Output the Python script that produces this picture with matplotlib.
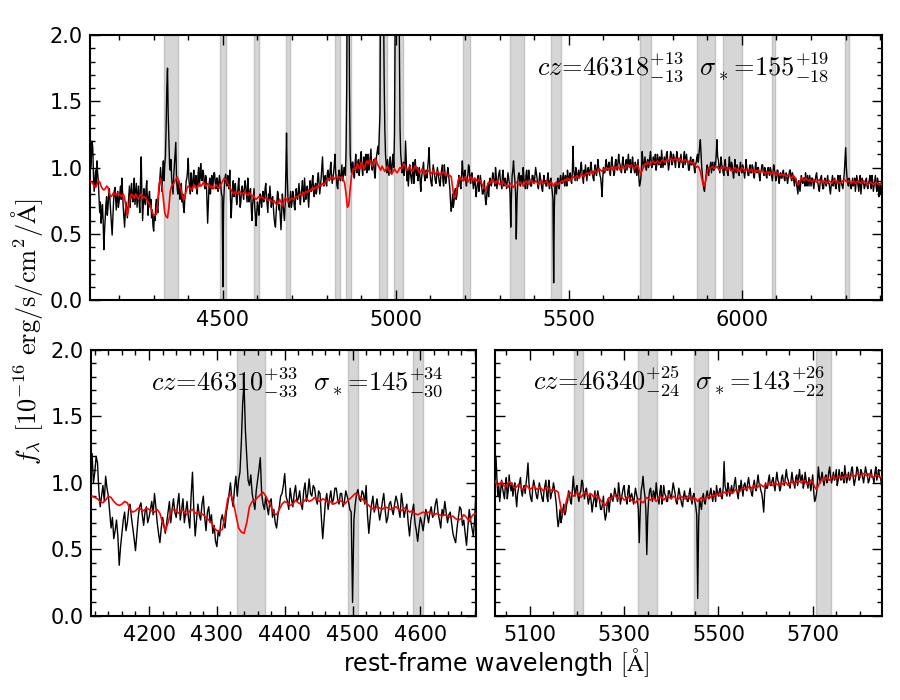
import numpy as np
import matplotlib
matplotlib.use("Agg")
import matplotlib.pyplot as plt
from matplotlib.ticker import MultipleLocator, FixedLocator, FormatStrFormatter

# ---------------- data ----------------
# observed spectrum (black): rest-frame grid start / step [Angstrom]
flux_start = 4116.0
flux_step = 2.0
# one row = 20 samples = 40 A, row start noted
flux = [
    1.22, 1.00, 1.08, 1.20, 1.15, 0.94, 0.82, 0.90, 0.98, 0.86, 1.05, 0.96, 0.90, 0.78, 0.66, 0.74, 0.58, 0.64, 0.72, 0.60,  # 4116
    0.38, 0.52, 0.62, 0.72, 0.78, 0.64, 0.70, 0.80, 0.84, 0.74, 0.66, 0.58, 0.49, 0.62, 0.74, 0.82, 0.85, 0.76, 0.68, 0.78,  # 4156
    0.82, 0.70, 0.74, 0.80, 0.86, 0.76, 0.92, 0.82, 0.70, 0.62, 0.55, 0.66, 0.74, 0.68, 0.62, 0.70, 0.78, 0.86, 0.70, 0.80,  # 4196
    0.88, 0.78, 0.74, 0.84, 0.92, 0.72, 0.80, 0.88, 0.70, 0.78, 0.86, 0.74, 0.66, 0.90, 1.08, 0.80, 0.60, 0.72, 0.84, 0.76,  # 4236
    0.72, 0.84, 0.90, 0.74, 0.64, 0.78, 0.82, 0.70, 0.76, 0.62, 0.68, 0.56, 0.52, 0.64, 0.60, 0.72, 0.76, 0.70, 0.66, 0.78,  # 4276
    0.84, 0.92, 1.00, 0.88, 0.82, 0.96, 1.05, 0.90, 1.02, 1.08, 1.30, 1.60, 1.75, 1.40, 1.20, 1.02, 0.98, 1.06, 0.92, 0.86,  # 4316
    0.80, 0.94, 1.02, 1.10, 1.19, 0.92, 0.84, 0.80, 0.90, 0.82, 0.76, 0.86, 0.88, 0.74, 0.80, 0.70, 0.66, 0.76, 0.82, 0.90,  # 4356
    0.92, 0.98, 1.07, 0.90, 0.86, 0.80, 0.96, 0.88, 0.82, 0.92, 0.98, 0.86, 0.88, 0.94, 0.84, 0.80, 0.94, 1.00, 0.86, 0.92,  # 4396
    1.03, 0.92, 0.90, 0.98, 0.96, 0.88, 0.84, 0.94, 0.92, 0.74, 0.58, 0.72, 0.86, 0.92, 0.80, 0.88, 0.94, 0.84, 0.88, 0.96,  # 4436
    0.96, 0.88, 0.84, 0.92, 0.92, 0.82, 0.86, 0.94, 0.90, 0.86, 0.80, 0.78, 0.10, 0.72, 0.84, 0.92, 0.95, 0.88, 0.86, 0.94,  # 4476
    0.92, 0.84, 0.98, 0.76, 0.62, 0.74, 0.84, 0.90, 0.78, 0.82, 0.88, 0.80, 0.72, 0.78, 0.86, 0.92, 0.80, 0.70, 0.74, 0.84,  # 4516
    0.86, 0.80, 0.76, 0.84, 0.90, 0.86, 0.80, 0.74, 0.92, 0.84, 0.74, 0.80, 0.84, 0.70, 0.60, 0.72, 0.78, 0.84, 0.70, 0.64,  # 4556
    0.56, 0.66, 0.74, 0.70, 0.64, 0.72, 0.80, 0.76, 0.70, 0.78, 0.82, 0.74, 0.76, 0.84, 0.88, 0.78, 0.72, 0.66, 0.80, 0.76,  # 4596
    0.86, 0.78, 0.70, 0.76, 0.78, 0.70, 0.62, 0.58, 0.55, 0.66, 0.74, 0.82, 0.80, 0.68, 0.72, 0.62, 0.53, 0.66, 0.80, 0.72,  # 4636
    0.66, 0.60, 0.72, 0.96, 1.26, 0.94, 0.78, 0.72, 0.70, 0.76, 0.82, 0.70, 0.74, 0.82, 0.80, 0.72, 0.68, 0.76, 0.84, 0.78,  # 4676
    0.76, 0.82, 0.88, 0.78, 0.72, 0.80, 0.84, 0.90, 0.80, 0.74, 0.92, 0.84, 0.76, 0.82, 0.86, 0.78, 0.70, 0.82, 0.90, 0.84,  # 4716
    0.82, 0.90, 0.94, 0.84, 0.78, 0.86, 0.88, 0.80, 0.84, 0.92, 0.96, 0.88, 0.80, 0.86, 0.92, 1.00, 1.08, 0.94, 0.86, 0.92,  # 4756
    0.94, 0.88, 0.86, 0.96, 0.98, 0.92, 0.90, 0.98, 1.04, 0.94, 0.88, 0.92, 0.96, 1.02, 1.10, 0.96, 0.92, 0.86, 0.84, 0.94,  # 4796
    0.98, 0.92, 0.90, 0.96, 1.02, 0.90, 0.94, 1.00, 1.00, 0.94, 1.12, 1.60, 2.80, 3.20, 2.60, 1.60, 1.10, 1.00, 0.96, 1.04,  # 4836
    1.04, 0.96, 0.92, 1.02, 1.10, 1.00, 0.96, 1.04, 1.06, 0.94, 1.00, 1.08, 1.12, 1.00, 0.94, 1.02, 1.08, 0.98, 1.02, 1.10,  # 4876
    0.96, 1.04, 1.10, 0.98, 1.02, 1.08, 1.14, 1.00, 0.98, 1.04, 1.06, 0.96, 0.92, 1.02, 1.08, 1.12, 1.16, 1.10, 1.24, 1.40,  # 4916
    2.50, 3.00, 3.00, 2.80, 2.40, 1.70, 1.30, 1.10, 1.02, 0.96, 1.06, 1.00, 0.94, 1.02, 1.08, 0.98, 0.96, 1.04, 1.10, 1.00,  # 4956
    1.25, 2.00, 3.20, 4.00, 4.50, 4.00, 3.00, 2.00, 1.30, 1.10, 1.04, 0.96, 0.98, 1.04, 0.94, 1.00, 1.20, 1.04, 0.90, 0.98,  # 4996
    0.86, 0.94, 1.02, 0.96, 0.92, 0.88, 0.98, 1.04, 0.88, 0.94, 1.06, 0.98, 0.94, 1.00, 0.90, 0.96, 1.00, 0.90, 0.82, 0.92,  # 5036
    0.96, 1.00, 1.04, 0.94, 0.90, 0.96, 0.98, 0.92, 1.00, 1.06, 1.15, 1.00, 0.92, 0.88, 0.86, 0.96, 1.02, 0.98, 0.94, 0.90,  # 5076
    0.88, 0.94, 1.00, 0.96, 0.92, 0.88, 0.86, 0.94, 0.98, 1.02, 0.90, 0.86, 1.02, 0.96, 0.88, 0.92, 0.94, 1.00, 0.96, 0.90,  # 5116
    0.84, 0.74, 0.67, 0.72, 0.80, 0.70, 0.74, 0.80, 0.84, 0.76, 0.78, 0.84, 0.86, 0.94, 0.92, 0.86, 0.84, 0.94, 1.05, 0.96,  # 5156
    0.90, 0.96, 0.98, 0.90, 0.86, 0.92, 0.94, 1.02, 1.00, 0.92, 0.88, 0.94, 0.96, 0.90, 0.84, 0.88, 0.92, 0.86, 0.78, 0.84,  # 5196
    0.88, 0.94, 0.82, 0.86, 0.94, 0.90, 0.86, 0.80, 0.80, 0.84, 0.90, 0.78, 0.72, 0.76, 0.84, 0.88, 0.78, 0.86, 0.92, 0.88,  # 5236
    0.86, 0.90, 0.96, 0.92, 0.90, 0.86, 1.00, 0.94, 0.84, 0.88, 0.92, 0.96, 0.98, 0.90, 0.88, 0.84, 0.94, 0.98, 0.86, 0.90,  # 5276
    0.92, 0.88, 0.84, 0.90, 0.96, 0.92, 0.88, 0.80, 0.55, 0.78, 0.94, 0.98, 1.05, 0.96, 0.90, 0.80, 0.46, 0.74, 0.88, 0.94,  # 5316
    0.96, 0.90, 0.86, 0.94, 0.92, 0.88, 1.00, 0.92, 0.88, 0.84, 0.94, 0.98, 0.84, 0.90, 0.98, 0.92, 0.90, 0.86, 0.86, 0.94,  # 5356
    0.94, 0.90, 0.88, 0.94, 1.00, 0.96, 0.92, 0.86, 0.84, 0.90, 0.96, 0.92, 0.88, 0.84, 0.82, 0.90, 0.94, 0.88, 0.90, 0.86,  # 5396
    0.86, 0.92, 0.96, 0.88, 0.84, 0.90, 0.92, 0.86, 0.82, 0.76, 0.13, 0.70, 0.88, 0.84, 0.80, 0.88, 0.92, 0.86, 0.84, 0.90,  # 5436
    0.94, 0.90, 0.88, 0.92, 0.96, 0.90, 0.86, 0.94, 0.92, 0.86, 0.98, 0.92, 0.90, 0.94, 0.96, 0.90, 0.88, 0.96, 1.16, 0.98,  # 5476
    0.94, 0.90, 1.00, 0.96, 0.90, 0.94, 0.98, 0.92, 0.94, 1.00, 1.04, 0.96, 0.92, 0.88, 0.98, 0.94, 1.02, 0.96, 0.90, 0.98,  # 5516
    1.00, 0.96, 0.94, 1.00, 1.04, 0.98, 0.96, 0.92, 0.90, 0.98, 1.02, 0.96, 0.94, 1.00, 1.06, 1.00, 0.98, 0.94, 0.92, 0.86,  # 5556
    0.78, 0.92, 1.00, 0.96, 0.96, 1.02, 1.06, 0.98, 0.98, 1.02, 1.04, 0.98, 0.94, 1.02, 1.08, 1.02, 1.00, 0.94, 0.96, 1.04,  # 5596
    1.06, 1.00, 0.98, 1.04, 1.10, 1.04, 1.02, 0.98, 0.96, 1.02, 1.08, 1.02, 1.00, 0.96, 1.04, 1.06, 0.98, 1.04, 1.10, 1.02,  # 5636
    1.02, 1.06, 0.96, 1.00, 1.08, 1.02, 1.00, 0.96, 1.04, 1.00, 0.94, 1.00, 1.06, 0.94, 0.86, 0.88, 0.92, 1.00, 1.12, 1.04,  # 5676
    1.00, 1.04, 1.08, 1.02, 0.98, 1.04, 1.06, 1.00, 1.02, 1.08, 1.12, 1.04, 1.00, 1.04, 1.08, 1.02, 1.04, 1.10, 0.98, 1.02,  # 5716
    1.10, 1.04, 1.02, 1.08, 1.06, 1.00, 1.13, 1.06, 1.00, 1.04, 1.08, 1.02, 1.04, 1.10, 1.12, 1.04, 0.98, 1.02, 1.06, 1.12,  # 5756
    1.10, 1.02, 1.04, 1.10, 1.08, 1.04, 1.00, 1.06, 1.12, 1.08, 1.06, 1.00, 1.02, 1.06, 1.10, 1.04, 1.04, 1.00, 1.08, 1.12,  # 5796
    1.02, 1.06, 1.10, 1.04, 1.04, 0.98, 0.98, 1.04, 1.08, 1.02, 1.02, 1.06, 1.06, 1.00, 0.96, 1.02, 1.04, 1.08, 1.10, 1.04,  # 5836
    1.10, 1.16, 1.21, 1.10, 1.00, 0.94, 0.88, 0.84, 0.82, 0.88, 0.92, 0.98, 1.02, 0.96, 0.94, 1.00, 1.00, 1.04, 0.96, 1.00,  # 5876
    1.04, 0.98, 0.98, 1.04, 1.02, 1.10, 1.21, 1.08, 1.06, 1.00, 0.96, 1.02, 1.08, 1.02, 1.00, 0.96, 0.94, 1.02, 1.06, 0.98,  # 5916
    1.00, 0.96, 0.94, 1.02, 1.08, 1.00, 0.98, 1.04, 1.02, 0.96, 0.92, 0.98, 1.06, 1.00, 0.96, 1.02, 1.00, 0.96, 0.94, 1.00,  # 5956
    1.04, 0.98, 0.96, 1.02, 1.00, 0.96, 0.92, 0.98, 1.06, 1.00, 0.98, 0.94, 0.94, 1.00, 1.02, 0.96, 0.96, 1.02, 1.00, 0.94,  # 5996
    0.92, 0.98, 1.04, 0.98, 0.96, 1.00, 1.00, 0.94, 0.90, 0.96, 0.98, 1.02, 1.02, 0.96, 0.94, 1.00, 0.98, 0.94, 0.92, 0.98,  # 6036
    1.00, 0.96, 0.94, 1.00, 0.98, 0.94, 0.90, 0.96, 1.02, 0.98, 0.96, 0.90, 0.92, 0.98, 0.98, 0.92, 0.88, 0.94, 0.96, 0.92,  # 6076
    0.92, 0.96, 0.98, 0.92, 0.90, 0.94, 0.96, 0.92, 0.88, 0.92, 0.94, 0.98, 0.98, 0.92, 0.90, 0.96, 0.94, 0.90, 0.86, 0.92,  # 6116
    0.92, 0.88, 0.84, 0.80, 0.90, 0.86, 0.82, 0.88, 0.94, 0.90, 0.88, 0.92, 0.92, 0.86, 0.96, 0.90, 0.86, 0.94, 0.90, 0.86,  # 6156
    0.94, 0.90, 0.86, 0.92, 0.92, 0.88, 0.84, 0.90, 0.90, 0.94, 0.96, 0.90, 0.88, 0.84, 0.82, 0.88, 0.92, 0.94, 0.88, 0.84,  # 6196
    0.84, 0.90, 0.92, 0.88, 0.86, 0.90, 0.94, 0.88, 0.88, 0.84, 0.80, 0.86, 0.90, 0.94, 0.86, 0.90, 0.92, 0.86, 0.84, 0.88,  # 6236
    0.90, 0.94, 0.86, 0.82, 0.94, 0.90, 0.88, 0.86, 0.84, 0.90, 0.96, 1.06, 1.15, 1.00, 0.92, 0.88, 0.86, 0.92, 0.90, 0.86,  # 6276
    0.84, 0.88, 0.92, 0.86, 0.88, 0.92, 0.82, 0.88, 0.94, 0.90, 0.86, 0.82, 0.90, 0.94, 0.80, 0.86, 0.92, 0.88, 0.88, 0.84,  # 6316
    0.86, 0.90, 0.92, 0.86, 0.84, 0.88, 0.90, 0.94, 0.88, 0.84, 0.94, 0.90, 0.82, 0.86, 0.90, 0.94, 0.86, 0.82, 0.92, 0.88,  # 6356
    0.78, 0.84, 0.88, 0.80, 0.84,                                                                                            # 6396
]

# best-fit stellar model (red): grid start / step [Angstrom]
model_start = 4116.0
model_step = 4.0
# one row = 10 samples = 40 A
model = [
    0.90, 0.89, 0.88, 0.86, 0.85, 0.87, 0.90, 0.89, 0.86, 0.84,  # 4116
    0.83, 0.84, 0.86, 0.85, 0.80, 0.78, 0.79, 0.81, 0.80, 0.79,  # 4156
    0.81, 0.80, 0.79, 0.78, 0.80, 0.77, 0.70, 0.64, 0.70, 0.78,  # 4196
    0.80, 0.79, 0.77, 0.80, 0.78, 0.76, 0.79, 0.80, 0.77, 0.78,  # 4236
    0.77, 0.76, 0.74, 0.72, 0.70, 0.66, 0.64, 0.64, 0.65, 0.75,  # 4276
    0.88, 0.92, 0.86, 0.76, 0.66, 0.63, 0.62, 0.70, 0.82, 0.86,  # 4316
    0.87, 0.89, 0.91, 0.93, 0.90, 0.86, 0.82, 0.77, 0.76, 0.80,  # 4356
    0.84, 0.86, 0.85, 0.83, 0.84, 0.87, 0.85, 0.84, 0.86, 0.88,  # 4396
    0.86, 0.87, 0.89, 0.87, 0.86, 0.88, 0.87, 0.85, 0.86, 0.84,  # 4436
    0.85, 0.87, 0.86, 0.84, 0.86, 0.88, 0.90, 0.92, 0.91, 0.89,  # 4476
    0.87, 0.85, 0.83, 0.81, 0.80, 0.82, 0.81, 0.80, 0.82, 0.81,  # 4516
    0.80, 0.81, 0.82, 0.80, 0.79, 0.81, 0.80, 0.78, 0.79, 0.77,  # 4556
    0.76, 0.77, 0.78, 0.77, 0.78, 0.77, 0.76, 0.77, 0.76, 0.75,  # 4596
    0.76, 0.75, 0.74, 0.75, 0.73, 0.72, 0.73, 0.76, 0.74, 0.71,  # 4636
    0.75, 0.77, 0.76, 0.74, 0.75, 0.76, 0.77, 0.76, 0.77, 0.78,  # 4676
    0.78, 0.79, 0.80, 0.79, 0.81, 0.80, 0.82, 0.81, 0.83, 0.82,  # 4716
    0.84, 0.83, 0.85, 0.84, 0.86, 0.85, 0.87, 0.86, 0.88, 0.87,  # 4756
    0.89, 0.90, 0.92, 0.91, 0.92, 0.93, 0.91, 0.92, 0.93, 0.92,  # 4796
    0.93, 0.92, 0.93, 0.91, 0.88, 0.80, 0.70, 0.72, 0.84, 0.94,  # 4836
    0.98, 1.00, 0.98, 1.03, 1.01, 0.99, 1.04, 1.02, 0.99, 1.02,  # 4876
    1.05, 1.03, 1.06, 1.04, 1.01, 1.04, 1.07, 1.05, 1.02, 1.00,  # 4916
    0.98, 1.01, 0.99, 0.97, 0.99, 1.01, 0.98, 0.96, 0.95, 0.97,  # 4956
    0.99, 0.97, 0.96, 0.98, 1.00, 0.99, 1.01, 1.03, 1.00, 0.98,  # 4996
    0.99, 1.01, 0.98, 0.97, 0.99, 1.01, 1.00, 0.98, 0.96, 0.97,  # 5036
    0.99, 0.97, 0.95, 0.96, 0.98, 0.97, 0.95, 0.96, 0.98, 0.96,  # 5076
    0.95, 0.97, 0.96, 0.94, 0.95, 0.97, 0.96, 0.94, 0.95, 0.94,  # 5116
    0.94, 0.93, 0.85, 0.77, 0.78, 0.84, 0.90, 0.93, 0.92, 0.90,  # 5156
    0.91, 0.93, 0.91, 0.89, 0.91, 0.93, 0.92, 0.90, 0.92, 0.91,  # 5196
    0.89, 0.91, 0.90, 0.88, 0.86, 0.84, 0.83, 0.86, 0.89, 0.88,  # 5236
    0.90, 0.91, 0.89, 0.88, 0.90, 0.89, 0.87, 0.88, 0.90, 0.88,  # 5276
    0.87, 0.86, 0.85, 0.87, 0.88, 0.86, 0.85, 0.87, 0.89, 0.88,  # 5316
    0.87, 0.89, 0.88, 0.86, 0.88, 0.90, 0.89, 0.87, 0.89, 0.90,  # 5356
    0.89, 0.88, 0.90, 0.89, 0.87, 0.88, 0.90, 0.89, 0.88, 0.89,  # 5396
    0.90, 0.88, 0.87, 0.89, 0.88, 0.86, 0.88, 0.89, 0.87, 0.88,  # 5436
    0.89, 0.90, 0.89, 0.91, 0.90, 0.92, 0.91, 0.90, 0.92, 0.93,  # 5476
    0.92, 0.93, 0.94, 0.92, 0.93, 0.95, 0.94, 0.93, 0.95, 0.96,  # 5516
    0.95, 0.96, 0.97, 0.95, 0.97, 0.98, 0.96, 0.97, 0.99, 0.98,  # 5556
    0.97, 0.99, 0.98, 1.00, 0.99, 0.98, 1.00, 0.99, 0.98, 1.00,  # 5596
    0.99, 1.01, 1.00, 0.98, 1.00, 1.01, 0.99, 1.00, 1.02, 1.01,  # 5636
    1.00, 1.02, 1.01, 0.99, 1.00, 1.02, 1.01, 0.97, 0.95, 0.98,  # 5676
    1.01, 1.03, 1.02, 1.04, 1.03, 1.02, 1.04, 1.05, 1.03, 1.04,  # 5716
    1.05, 1.04, 1.03, 1.05, 1.06, 1.04, 1.05, 1.06, 1.05, 1.06,  # 5756
    1.07, 1.05, 1.06, 1.07, 1.06, 1.05, 1.07, 1.06, 1.04, 1.05,  # 5796
    1.06, 1.05, 1.04, 1.05, 1.04, 1.03, 1.04, 1.02, 1.00, 1.01,  # 5836
    1.00, 0.97, 0.92, 0.87, 0.86, 0.91, 0.97, 1.00, 0.99, 1.00,  # 5876
    1.01, 0.99, 1.00, 1.01, 0.99, 0.98, 1.00, 0.99, 1.01, 1.00,  # 5916
    0.98, 0.99, 1.00, 0.98, 0.97, 0.99, 1.00, 0.98, 0.99, 0.97,  # 5956
    0.98, 1.00, 0.99, 0.97, 0.98, 0.99, 0.97, 0.98, 0.99, 0.97,  # 5996
    0.96, 0.98, 0.97, 0.98, 0.96, 0.97, 0.98, 0.96, 0.95, 0.97,  # 6036
    0.96, 0.97, 0.95, 0.96, 0.97, 0.95, 0.94, 0.96, 0.95, 0.94,  # 6076
    0.95, 0.94, 0.95, 0.93, 0.94, 0.95, 0.93, 0.92, 0.94, 0.93,  # 6116
    0.91, 0.88, 0.87, 0.90, 0.92, 0.91, 0.90, 0.92, 0.91, 0.90,  # 6156
    0.91, 0.90, 0.89, 0.91, 0.90, 0.89, 0.90, 0.91, 0.89, 0.90,  # 6196
    0.89, 0.90, 0.88, 0.89, 0.90, 0.89, 0.88, 0.90, 0.91, 0.89,  # 6236
    0.90, 0.89, 0.88, 0.89, 0.90, 0.91, 0.90, 0.89, 0.90, 0.89,  # 6276
    0.88, 0.89, 0.90, 0.88, 0.89, 0.90, 0.89, 0.88, 0.89, 0.90,  # 6316
    0.89, 0.88, 0.87, 0.88, 0.89, 0.88, 0.87, 0.88, 0.89, 0.88,  # 6356
    0.87, 0.88, 0.87,                                            # 6396
]

# masked wavelength windows (grey bands) [A]
band_lo = [4330, 4493, 4589, 4682, 4825, 4856, 4952, 4995,
           5194, 5329, 5449, 5706, 5869, 5945, 6086, 6298]
band_hi = [4371, 4508, 4604, 4694, 4838, 4869, 4973, 5022,
           5213, 5369, 5478, 5738, 5921, 6000, 6095, 6311]

# x tick labels of each panel
ticks_top = [4500, 5000, 5500, 6000]
ticks_bl = [4200, 4300, 4400, 4500, 4600]
ticks_br = [5100, 5300, 5500, 5700]

# fit results shown in each panel
labels = [
    r"$cz\!=\!46318^{+13}_{-13}\ \ \sigma_*\!=\!155^{+19}_{-18}$",
    r"$cz\!=\!46310^{+33}_{-33}\ \ \sigma_*\!=\!145^{+34}_{-30}$",
    r"$cz\!=\!46340^{+25}_{-24}\ \ \sigma_*\!=\!143^{+26}_{-22}$",
]

# ---------------- style ----------------
plt.rcParams.update({
    "mathtext.fontset": "cm",
    "font.family": ["DejaVu Sans"],
    "xtick.direction": "in", "ytick.direction": "in",
    "xtick.top": True, "ytick.right": True,
    "xtick.major.size": 7, "ytick.major.size": 7,
    "xtick.minor.size": 3.5, "ytick.minor.size": 3.5,
    "xtick.major.width": 1.0, "ytick.major.width": 1.0,
    "xtick.minor.width": 1.0, "ytick.minor.width": 1.0,
    "xtick.major.pad": 7, "ytick.major.pad": 5,
    "axes.linewidth": 1.5,
    "xtick.labelsize": 15, "ytick.labelsize": 15,
})

flux_a = np.array(flux)
model_a = np.array(model)
wave_f = flux_start + flux_step * np.arange(len(flux_a))
wave_m = model_start + model_step * np.arange(len(model_a))

fig = plt.figure(figsize=(9, 7), dpi=100)
ax_top = fig.add_axes([0.100, 0.5714, 0.880, 0.3786])
ax_bl = fig.add_axes([0.1008, 0.1204, 0.4281, 0.3796])
ax_br = fig.add_axes([0.550, 0.1204, 0.430, 0.3796])

panels = [
    (ax_top, (4116, 6405), ticks_top, 100, (0.749, 0.879), True),
    (ax_bl, (4114, 4682), ticks_bl, 20, (0.535, 0.881), True),
    (ax_br, (5026, 5847), ticks_br, 50, (0.475, 0.881), False),
]

for (ax, xl, tks, mnr, tpos, ylab), lab in zip(panels, labels):
    for lo, hi in zip(band_lo, band_hi):
        ax.axvspan(lo, hi, facecolor="#d6d6d6", edgecolor="#c2c2c2",
                   lw=1.0, zorder=0)
    ax.plot(wave_f, flux_a, color="black", lw=1.0, zorder=2)
    ax.plot(wave_m, model_a, color="red", lw=1.2, zorder=3)
    ax.set_xlim(*xl)
    ax.set_ylim(0, 2.0)
    ax.xaxis.set_major_locator(FixedLocator(tks))
    ax.xaxis.set_minor_locator(MultipleLocator(mnr))
    ax.yaxis.set_major_locator(MultipleLocator(0.5))
    ax.yaxis.set_minor_locator(MultipleLocator(0.1))
    ax.yaxis.set_major_formatter(FormatStrFormatter("%.1f"))
    if not ylab:
        ax.set_yticklabels([])
    ax.text(tpos[0], tpos[1], lab, transform=ax.transAxes, fontsize=19,
            ha="center", va="center", zorder=5)

fig.text(0.030, 0.526,
         r"$f_\lambda\ [10^{-16}\ \mathrm{erg/s/cm^2/\AA}]$",
         rotation=90, ha="center", va="center", fontsize=19)
fig.text(0.551, 0.053, r"rest-frame wavelength $[\mathrm{\AA}]$",
         ha="center", va="center", fontsize=17)

fig.savefig("out.png", dpi=100)
